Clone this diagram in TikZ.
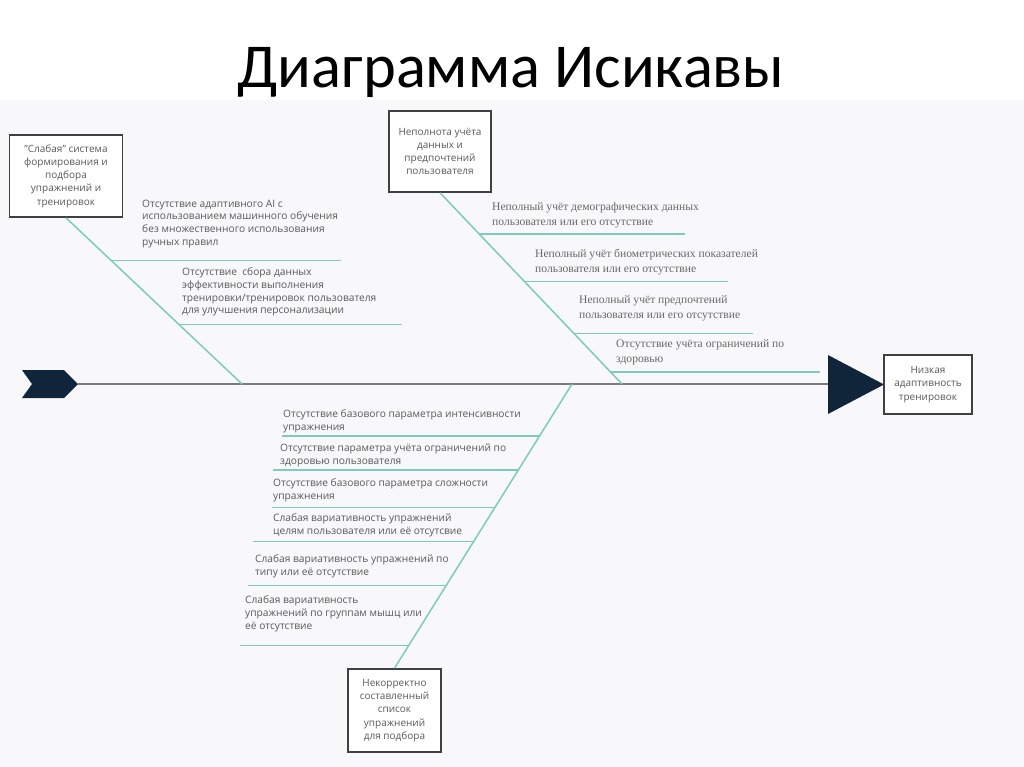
\documentclass[tikz,border=0pt]{standalone}
\usepackage{fontspec}
\setmainfont{Open Sans}
\newfontfamily\titlefont{Carlito}
\newfontfamily\serfont{Liberation Serif}
\usetikzlibrary{calc}
\definecolor{teal1}{HTML}{7CCBBB}
\definecolor{txtgray}{HTML}{5A5A5A}
\definecolor{sergray}{HTML}{686868}
\definecolor{spinegray}{HTML}{7A7A7A}
\definecolor{boxgray}{HTML}{404040}
\definecolor{navy}{HTML}{10253A}
\definecolor{bggray}{HTML}{F8F8FA}
\begin{document}
\begin{tikzpicture}[x=1pt,y=-1pt,
  bx/.style={draw=boxgray, line width=1.6pt, fill=white, align=center, inner sep=2pt,
    font=\fontsize{10}{13.2}\selectfont, text=txtgray},
  lbl/.style={anchor=north west, inner sep=0pt, align=left,
    font=\fontsize{10.2}{12.8}\selectfont, text=txtgray},
  slbl/.style={anchor=north west, inner sep=0pt, align=left,
    font=\serfont\fontsize{11.6}{15}\selectfont, text=sergray},
  bone/.style={draw=teal1, line width=1.5pt},
]
\useasboundingbox (0,0) rectangle (1024,767);
\fill[white] (0,0) rectangle (1024,100);
\fill[bggray] (0,100) rectangle (1024,767);

\node[anchor=base, inner sep=0pt, font=\titlefont\fontsize{62.5}{62.5}\selectfont] (title) at (511,88) {Диаграмма Исикавы};

% tail and head
\fill[navy] (22,370) -- (64,370) -- (78,384) -- (64,398) -- (22,398) -- (32,384) -- cycle;
\coordinate (tail) at (78,384);
\fill[navy] (828,355) -- (884,384.5) -- (828,414) -- cycle;
\coordinate (head) at (828,384);
\draw[spinegray, line width=2.5pt] (tail) -- (head);

% boxes
\node[bx, minimum width=113pt, minimum height=82pt] (c1) at (66,176)
  {"Слабая" система\\формирования и\\подбора\\упражнений и\\тренировок};
\node[bx, minimum width=102pt, minimum height=81pt] (c2) at (440,151.5)
  {Неполнота учёта\\данных и\\предпочтений\\пользователя};
\node[bx, minimum width=93pt, minimum height=83pt] (c3) at (394.5,710.5)
  {Некорректно\\составленный\\список\\упражнений\\для подбора};
\node[bx, minimum width=88pt, minimum height=59pt] (eff) at (928,384.5)
  {Низкая\\адаптивность\\тренировок};

% bone 1
\coordinate (j1) at (242,384);
\draw[bone] (c1.south) -- coordinate[pos=0.2575] (a1) coordinate[pos=0.641] (a2) (j1);
\draw[bone] (a1) -- ++(230,0);
\draw[bone] (a2) -- ++(223,0);
\node[lbl] (t11) at (142,199.5) {Отсутствие адаптивного AI с\\использованием машинного обучения\\без множественного использования\\ручных правил};
\node[lbl] (t12) at (182,267.5) {Отсутствие\ \ сбора данных\\эффективности выполнения\\тренировки/тренировок пользователя\\для улучшения персонализации};

% bone 2
\coordinate (j2) at (622,384);
\draw[bone] (c2.south) -- coordinate[pos=0.2156] (b1) coordinate[pos=0.465] (b2)
  coordinate[pos=0.735] (b3) coordinate[pos=0.9377] (b4) (j2);
\draw[bone] (b1) -- ++(206,0);
\draw[bone] (b2) -- ++(203,0);
\draw[bone] (b3) -- ++(179,0);
\draw[bone] (b4) -- ++(209,0);
\node[slbl] (t21) at (492,202) {Неполный учёт демографических данных\\пользователя или его отсутствие};
\node[slbl] (t22) at (535,249) {Неполный учёт биометрических показателей\\пользователя или его отсутствие};
\node[slbl] (t23) at (579,295) {Неполный учёт предпочтений\\пользователя или его отсутствие};
\node[slbl] (t24) at (616,339) {Отсутствие учёта ограничений по\\здоровью};

% bone 3
\coordinate (j3) at (572,384);
\draw[bone] (j3) -- coordinate[pos=0.1825] (d1) coordinate[pos=0.3018] (d2)
  coordinate[pos=0.435] (d3) coordinate[pos=0.5544] (d4) coordinate[pos=0.7088] (d5)
  coordinate[pos=0.9193] (d6) (c3.north);
\draw[bone] (d1) -- ++(-258,0);
\draw[bone] (d2) -- ++(-245,0);
\draw[bone] (d3) -- ++(-223,0);
\draw[bone] (d4) -- ++(-221,0);
\draw[bone] (d5) -- ++(-198,0);
\draw[bone] (d6) -- ++(-169,0);
\node[lbl] (t31) at (283,409.5) {Отсутствие базового параметра интенсивности\\упражнения};
\node[lbl] (t32) at (280,443.5) {Отсутствие параметра учёта ограничений по\\здоровью пользователя};
\node[lbl] (t33) at (273,478.5) {Отсутствие базового параметра сложности\\упражнения};
\node[lbl] (t34) at (273,513.5) {Слабая вариативность упражнений\\целям пользователя или её отсутсвие};
\node[lbl] (t35) at (255,554.5) {Слабая вариативность упражнений по\\типу или её отсутствие};
\node[lbl] (t36) at (245,595.5) {Слабая вариативность\\упражнений по группам мышц или\\её отсутствие};
\end{tikzpicture}
\end{document}
